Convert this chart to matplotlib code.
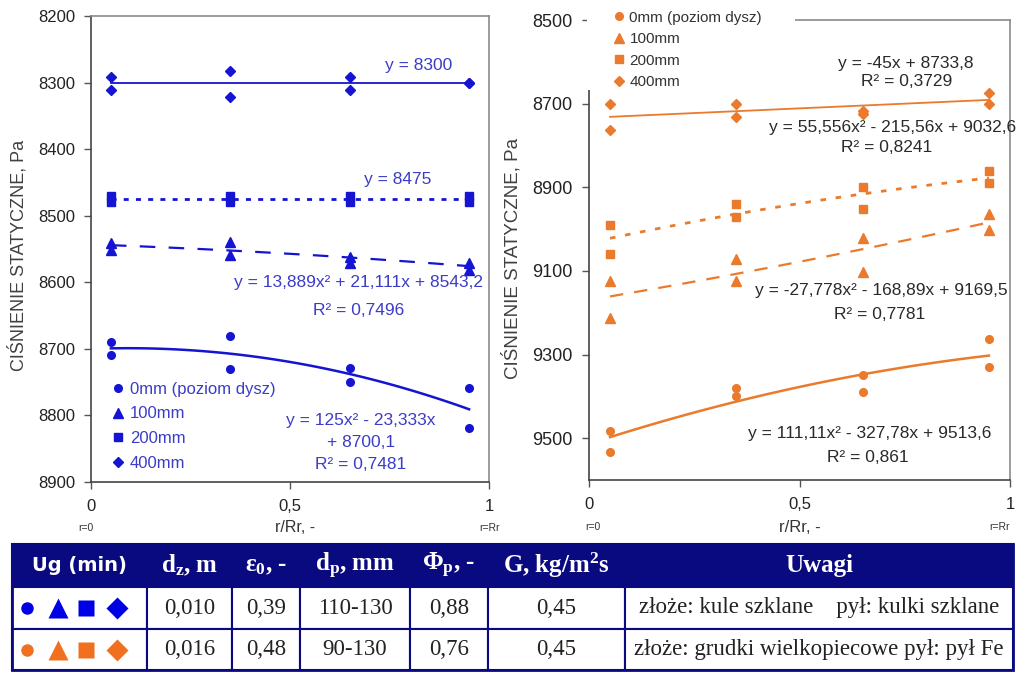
import numpy as np
import matplotlib.pyplot as plt
from matplotlib.patches import Rectangle

plt.rcParams['font.family'] = ['Liberation Sans', 'DejaVu Sans']
plt.rcParams['mathtext.fontset'] = 'custom'
plt.rcParams['mathtext.rm'] = 'Liberation Serif'
plt.rcParams['mathtext.bf'] = 'Liberation Serif:bold'
plt.rcParams['mathtext.default'] = 'bf'

# measurement positions r/Rr (two readings at each)
r_pos = [0.05, 0.05, 0.35, 0.35, 0.65, 0.65, 0.95, 0.95]

# left chart - glass beads bed
blue_0mm = [8690, 8709, 8681, 8730, 8729, 8750, 8759, 8819]
blue_100mm = [8541, 8551, 8539, 8559, 8562, 8571, 8571, 8581]
blue_200mm = [8470, 8480, 8470, 8480, 8470, 8480, 8470, 8480]
blue_400mm = [8292, 8311, 8283, 8322, 8292, 8311, 8300, 8300]

# right chart - blast furnace pellets bed
orange_0mm = [9483, 9534, 9380, 9400, 9350, 9390, 9262, 9330]
orange_100mm = [9123, 9213, 9072, 9123, 9022, 9103, 8965, 9003]
orange_200mm = [8991, 9060, 8941, 8972, 8900, 8953, 8862, 8890]
orange_400mm = [8700, 8762, 8700, 8733, 8717, 8724, 8674, 8700]

# trendline coefficients as printed on the chart (a, b, c for ax^2+bx+c)
fit_blue = [[125, -23.333, 8700.1], [13.889, 21.111, 8543.2], [0, 0, 8475], [0, 0, 8300]]
fit_orange = [[111.11, -327.78, 9513.6], [-27.778, -168.89, 9169.5],
              [55.556, -215.56, 9032.6], [0, -45, 8733.8]]

labels = ['0mm (poziom dysz)', '100mm', '200mm', '400mm']
markers = ['o', '^', 's', 'D']
msizes = [5.5, 7, 6, 5.5]

eq_blue = [['y = 125x² - 23,333x', '+ 8700,1', 'R² = 0,7481'],
           ['y = 13,889x² + 21,111x + 8543,2', 'R² = 0,7496'],
           ['y = 8475'], ['y = 8300']]
eq_orange = [['y = 111,11x² - 327,78x + 9513,6', 'R² = 0,861'],
             ['y = -27,778x² - 168,89x + 9169,5', 'R² = 0,7781'],
             ['y = 55,556x² - 215,56x + 9032,6', 'R² = 0,8241'],
             ['y = -45x + 8733,8', 'R² = 0,3729']]

# table
headers = ['Ug (min)', 'd$_z$, m', 'ε$_0$, -', 'd$_p$, mm', 'Φ$_p$, -', 'G, kg/m$^2$s', 'Uwagi']
row_blue = ['', '0,010', '0,39', '110-130', '0,88', '0,45', 'złoże: kule szklane    pył: kulki szklane']
row_orange = ['', '0,016', '0,48', '90-130', '0,76', '0,45', 'złoże: grudki wielkopiecowe pył: pył Fe']

BLUE = '#1414d2'
BLUE_TXT = '#3c3cc8'
ORANGE = '#ea7a2c'
NAVY = '#0a0a80'

W, H = 1027, 673
fig = plt.figure(figsize=(W / 100, H / 100), dpi=100)


def px_axes(x0, y0, x1, y1):
    return [x0 / W, 1 - y1 / H, (x1 - x0) / W, (y1 - y0) / H]


axL = fig.add_axes(px_axes(91, 16, 489, 482))
axR = fig.add_axes(px_axes(589, 20, 1010, 480))
tab = fig.add_axes([0, 0, 1, 1], zorder=-1)
tab.set_xlim(0, W)
tab.set_ylim(H, 0)
tab.axis('off')

xs = np.linspace(0.05, 0.95, 60)
styles_L = ['-', (0, (7, 6)), (0, (1.8, 2.6)), '-']
styles_R = ['-', (0, (6, 5)), (0, (2, 3.5)), '-']
widths = [1.8, 1.6, 2.0, 1.3]


def draw(ax, series, fits, color, lstyles, tsize):
    handles = []
    for vals, coef, m, ms, ls, lw in zip(series, fits, markers, msizes, lstyles, widths):
        h, = ax.plot(r_pos, vals, ls='none', marker=m, ms=ms, color=color, zorder=4)
        ax.plot(xs, np.polyval(coef, xs), ls=ls, lw=lw, color=color, zorder=3)
        handles.append(h)
    ax.set_xlim(0, 1)
    ax.set_xticks([0, 0.5, 1])
    ax.set_xticklabels(['0', '0,5', '1'])
    ax.tick_params(direction='out', length=5, width=1, color='#555555',
                   labelcolor='#222222', labelsize=tsize)
    ax.tick_params(axis='x', pad=7, labelsize=12)
    for s in ['top', 'right']:
        ax.spines[s].set_color('#8a8a8a')
    for s in ['left', 'bottom']:
        ax.spines[s].set_color('#444444')
    for s in ax.spines.values():
        s.set_linewidth(1.2)
    return handles


hL = draw(axL, [blue_0mm, blue_100mm, blue_200mm, blue_400mm], fit_blue, BLUE, styles_L, 12)
axL.set_ylim(8900, 8200)
axL.set_yticks(np.arange(8200, 8901, 100))
axL.tick_params(axis='y', pad=6)

hR = draw(axR, [orange_0mm, orange_100mm, orange_200mm, orange_400mm], fit_orange, ORANGE, styles_R, 13)
axR.set_ylim(9600, 8500)
axR.set_yticks(np.arange(8500, 9501, 200))
axR.tick_params(axis='y', pad=7)

# equation labels (x, y in data coords for each line)
pos_blue = [[(0.678, 8808), (0.678, 8840), (0.678, 8873)],
            [(0.673, 8600), (0.673, 8642)],
            [(0.771, 8445)], [(0.824, 8274)]]
for lines, pts in zip(eq_blue, pos_blue):
    for t, (x, y) in zip(lines, pts):
        axL.text(x, y, t, ha='center', va='center', fontsize=12.5, color=BLUE_TXT, zorder=5)

pos_orange = [[(0.667, 9488), (0.662, 9545)],
              [(0.694, 9148), (0.691, 9205)],
              [(0.722, 8756), (0.708, 8804)],
              [(0.753, 8603), (0.755, 8648)]]
for lines, pts in zip(eq_orange, pos_orange):
    for t, (x, y) in zip(lines, pts):
        axR.text(x, y, t, ha='center', va='center', fontsize=12.5, color='#2a2a2a', zorder=5)

axL.legend(hL, labels, loc='upper left', bbox_to_anchor=(0.052, 0.215), frameon=False,
           handlelength=0.8, handletextpad=0.3, labelspacing=0.58, fontsize=12,
           labelcolor=BLUE_TXT, borderaxespad=0, borderpad=0)

axR.add_patch(Rectangle((-0.004, 0.848), 0.494, 0.19, transform=axR.transAxes,
                        facecolor='white', edgecolor='none', clip_on=False, zorder=3))
legR = axR.legend(hR, labels, loc='upper left', bbox_to_anchor=(0.056, 1.02), frameon=False,
                  handlelength=0.8, handletextpad=0.3, labelspacing=0.49, fontsize=11,
                  labelcolor='#333333', borderaxespad=0, borderpad=0)
legR.set_zorder(6)

# axis titles
fig.text(18 / W, 1 - 255 / H, 'CIŚNIENIE STATYCZNE, Pa', rotation=90, ha='center', va='center',
         fontsize=13, color='#404040')
fig.text(512 / W, 1 - 258 / H, 'CIŚNIENIE STATYCZNE, Pa', rotation=90, ha='center', va='center',
         fontsize=13.5, color='#404040')
for x, y, t, fs in [(86, 528, 'r=0', 7.5), (295, 527, 'r/Rr, -', 11.5), (489, 528, 'r=Rr', 7.5),
                    (593, 527, 'r=0', 7.5), (800, 528, 'r/Rr, -', 12), (1000, 527, 'r=Rr', 7.5)]:
    tab.text(x, y, t, ha='center', va='center', fontsize=fs, color='#333333')

# table
col_edges = [12, 147, 232, 300, 410, 488, 625, 1013]
row_edges = [544, 587, 629, 670]
tab.add_patch(Rectangle((col_edges[0], row_edges[0]), col_edges[-1] - col_edges[0],
                        row_edges[1] - row_edges[0], facecolor=NAVY, edgecolor=NAVY, lw=1.5))
for r in range(1, 3):
    for c in range(len(col_edges) - 1):
        tab.add_patch(Rectangle((col_edges[c], row_edges[r]), col_edges[c + 1] - col_edges[c],
                                row_edges[r + 1] - row_edges[r], facecolor='white',
                                edgecolor=NAVY, lw=1.5))
tab.add_patch(Rectangle((col_edges[0], row_edges[0]), col_edges[-1] - col_edges[0],
                        row_edges[-1] - row_edges[0], facecolor='none', edgecolor=NAVY, lw=2))

yc = [(row_edges[i] + row_edges[i + 1]) / 2 for i in range(3)]
for c, t in enumerate(headers):
    xc = (col_edges[c] + col_edges[c + 1]) / 2
    if c == 0:
        tab.text(xc, yc[0], t, ha='center', va='center', fontsize=14, fontweight='bold',
                 color='white', family='DejaVu Sans')
    else:
        tab.text(xc, yc[0], t, ha='center', va='center', fontsize=18, fontweight='bold',
                 color='white', family='Liberation Serif')
for r, row in enumerate([row_blue, row_orange]):
    for c, t in enumerate(row):
        xc = (col_edges[c] + col_edges[c + 1]) / 2
        tab.text(xc, yc[r + 1], t, ha='center', va='center', fontsize=16.5,
                 color='#222222', family='Liberation Serif')

sym_x = [27, 58, 86, 117]
sym_size = [9, 15, 11, 11.5]
for r, color in enumerate(['#0000e6', '#f07020']):
    for x, m, s in zip(sym_x, markers, sym_size):
        tab.plot(x, yc[r + 1], marker=m, ms=s, color=color, ls='none', mec='none')

fig.savefig('out.png', dpi=100)
